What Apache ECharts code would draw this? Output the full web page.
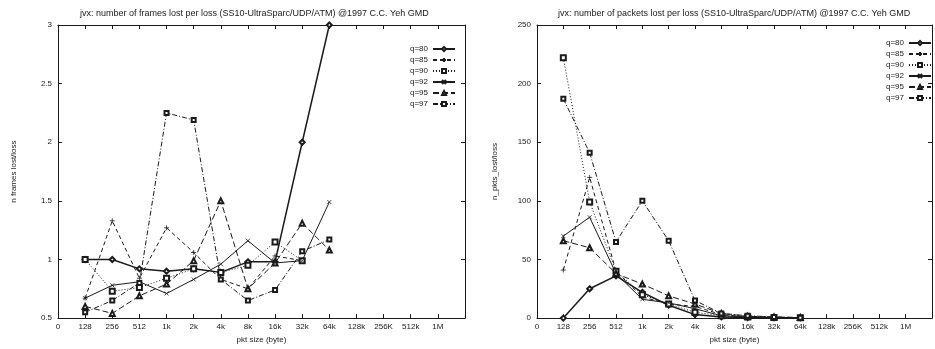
<!DOCTYPE html>
<html><head><meta charset="utf-8">
<script src="https://cdn.jsdelivr.net/npm/echarts@6/dist/echarts.min.js"></script>
<style>html,body{margin:0;padding:0;background:#fff}#c{width:935px;height:349px}</style>
</head><body><div id="c"></div>
<script>
// tick labels of the log2 packet-size axis
const xLabels = ['0','128','256','512','1k','2k','4k','8k','16k','32k','64k','128k','256K','512k','1M'];
// measured packet sizes
const sizes = ['128','256','512','1k','2k','4k','8k','16k','32k','64k'];
const seriesNames = ['q=80','q=85','q=90','q=92','q=95','q=97'];

// left chart: number of frames lost per loss
const framesQ80 = [1.00, 1.00, 0.92, 0.90, 0.92, 0.89, 0.98, 0.98, 2.00, 3.00];
const framesQ85 = [0.67, 1.33, 0.84, 1.27, 1.06, 0.83, 0.75, 1.03, 0.99, null];
const framesQ90 = [1.00, 0.73, 0.76, 0.84, 0.92, 0.89, 0.95, 1.15, 0.99, null];
const framesQ92 = [0.67, 0.78, 0.81, 0.71, 0.83, 0.96, 1.16, 0.97, 0.99, 1.49];
const framesQ95 = [0.60, 0.54, 0.69, 0.79, 0.99, 1.50, 0.75, 0.97, 1.31, 1.08];
const framesQ97 = [0.55, 0.65, 0.80, 2.25, 2.19, 0.83, 0.65, 0.74, 1.07, 1.17];

// right chart: number of packets lost per loss
const pktsQ80 = [0, 25, 36, 22, 11, 3, 1, 0.5, 0.3, 0.2];
const pktsQ85 = [41, 120, 40, 18, 12, 10, 3, 1, 0.5, 0.2];
const pktsQ90 = [222, 99, 40, 20, 12, 5, 2, 1, 0.5, 0.3];
const pktsQ92 = [70, 86, 38, 16, 13, 8, 2, 1, 0.5, 0.3];
const pktsQ95 = [66, 60, 38, 29, 19, 12, 4, 1.5, 1, 0.5];
const pktsQ97 = [187, 141, 65, 100, 66, 15, 4, 2, 1, 0.3];

const leftTitle = 'jvx: number of frames lost per loss (SS10-UltraSparc/UDP/ATM) @1997 C.C. Yeh GMD';
const rightTitle = 'jvx: number of packets lost per loss (SS10-UltraSparc/UDP/ATM) @1997 C.C. Yeh GMD';

const INK = '#1a1a1a';
const FONT = '"Liberation Sans", Arial, sans-serif';

const styles = [
  {symbol:'emptyDiamond', size:5, type:'solid', width:1.5},
  {symbol:'path://M0,5H10M5,0V10', size:5, type:[4,3], width:1},
  {symbol:'emptyRect', size:5, type:[1,2], width:1},
  {symbol:'path://M0,0L10,10M10,0L0,10', size:4, type:'solid', width:1},
  {symbol:'emptyTriangle', size:5, type:[6,3], width:1},
  {symbol:'emptyRect', size:4, type:[5,2,1,2], width:1}
];

function pairs(vals){ return sizes.map((s,i)=>[xLabels.indexOf(s), vals[i]]).filter(p=>p[1]!==null); }

function mkSeries(vals, k, gi){
  const st = styles[k];
  return {
    name: seriesNames[k], type:'line', xAxisIndex: gi*2, yAxisIndex: gi*2,
    data: pairs(vals), symbol: st.symbol, symbolSize: st.size,
    lineStyle:{color:INK, width:st.width, type:st.type},
    itemStyle:{color:INK, borderColor:INK, borderWidth:0.8},
    emphasis:{disabled:true}, animation:false, clip:false
  };
}

const framesAll = [framesQ80, framesQ85, framesQ90, framesQ92, framesQ95, framesQ97];
const pktsAll = [pktsQ80, pktsQ85, pktsQ90, pktsQ92, pktsQ95, pktsQ97];

const axisCommon = {
  axisLine:{show:true, onZero:false, lineStyle:{color:INK, width:1}},
  axisTick:{show:true, inside:true, length:4, lineStyle:{color:INK}},
  splitLine:{show:false}
};
function xAx(gi, pos){
  return Object.assign({}, axisCommon, {
    type:'value', gridIndex:gi, position:pos, min:0, max:15, interval:1,
    axisLabel:{show:pos==='bottom', color:INK, fontSize:8, fontFamily:FONT, margin: gi===0?5:5,
      formatter:v=>xLabels[v]||''},
    name: pos==='bottom' ? 'pkt size (byte)' : '', nameLocation:'middle', nameGap:15,
    nameTextStyle:{color:INK, fontSize:8, fontFamily:FONT}
  });
}
function yAx(gi, pos, min, max, interval, name){
  return Object.assign({}, axisCommon, {
    type:'value', gridIndex:gi, position:pos, min, max, interval,
    axisLabel:{show:pos==='left', color:INK, fontSize:8, fontFamily:FONT, margin:6},
    name: pos==='left' ? name : '', nameLocation:'middle', nameGap: gi===0?40:38, nameRotate:90,
    nameTextStyle:{color:INK, fontSize:8, fontFamily:FONT}
  });
}

const series = [];
framesAll.forEach((v,k)=>series.push(mkSeries(v,k,0)));
pktsAll.forEach((v,k)=>series.push(mkSeries(v,k,1)));

const legendCommon = {
  orient:'vertical', align:'right', itemWidth:22, itemHeight:5, itemGap:3,
  textStyle:{color:INK, fontSize:8, fontFamily:FONT, padding:[0,0,0,0]},
  data: seriesNames, selectedMode:false, padding:0
};

const option = {
  backgroundColor:'#fff',
  animation:false,
  title:[
    {text:leftTitle, left:80, top:9, textStyle:{color:INK, fontSize:9, fontWeight:'normal', fontFamily:FONT}, padding:0},
    {text:rightTitle, left:558, top:9, textStyle:{color:INK, fontSize:9, fontWeight:'normal', fontFamily:FONT}, padding:0}
  ],
  legend:[
    Object.assign({}, legendCommon, {left:410, top:45}),
    Object.assign({}, legendCommon, {left:886, top:39})
  ],
  grid:[
    {left:58, top:25, width:407, height:296},
    {left:537, top:25, right:-7, height:300}
  ],
  xAxis:[xAx(0,'bottom'), xAx(0,'top'), xAx(1,'bottom'), xAx(1,'top')],
  yAxis:[
    yAx(0,'left',0.5,3,0.5,'n frames lost/loss'), yAx(0,'right',0.5,3,0.5,''),
    yAx(1,'left',0,250,50,'n_pkts_lost/loss'), yAx(1,'right',0,250,50,'')
  ],
  series
};
const chart = echarts.init(document.getElementById('c'), null, {renderer:'canvas'});
chart.setOption(option);
</script></body></html>
